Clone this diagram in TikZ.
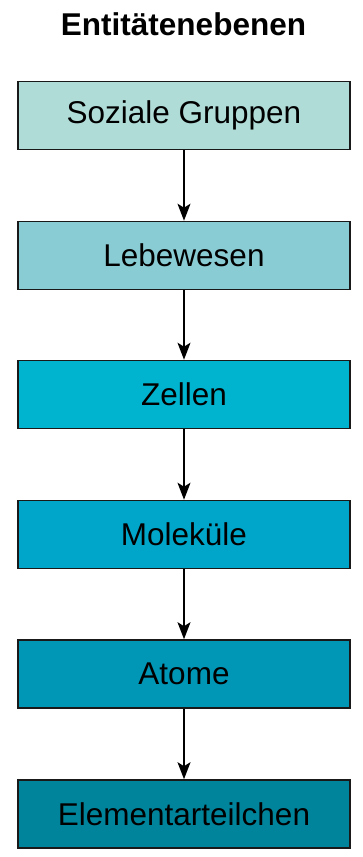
\documentclass[tikz,border=0pt]{standalone}
\usepackage{fontspec}
\setmainfont{Liberation Sans}
\usetikzlibrary{arrows.meta}
\definecolor{cA}{RGB}{176,220,216}
\definecolor{cB}{RGB}{138,204,212}
\definecolor{cC}{RGB}{0,180,208}
\definecolor{cD}{RGB}{0,166,202}
\definecolor{cE}{RGB}{0,150,182}
\definecolor{cF}{RGB}{0,132,156}
\definecolor{edge}{RGB}{25,25,25}
\tikzset{
  level/.style={draw=edge, line width=1.6pt, minimum width=332pt, minimum height=68pt, inner sep=0pt, font=\fontsize{31.5}{36}\selectfont, text=black},
  link/.style={line width=1.6pt, draw=black, -{Stealth[length=17pt,width=13pt,inset=4pt]}},
}
\begin{document}
\begin{tikzpicture}[x=1pt,y=1pt]
\useasboundingbox (0,0) rectangle (362,-857);
\node[font=\fontsize{31.5}{36}\selectfont\bfseries] (title) at (183.5,-24) {Entitätenebenen};
\node[level, fill=cA] (n1) at (184,-115.5) {Soziale Gruppen};
\node[level, fill=cB] (n2) at (184,-255.5) {Lebewesen};
\node[level, fill=cC] (n3) at (184,-394.5) {Zellen};
\node[level, fill=cD] (n4) at (184,-534.5) {Moleküle};
\node[level, fill=cE] (n5) at (184,-674) {Atome};
\node[level, fill=cF] (n6) at (184,-814) {Elementarteilchen};
\draw[link] (n1) -- (n2);
\draw[link] (n2) -- (n3);
\draw[link] (n3) -- (n4);
\draw[link] (n4) -- (n5);
\draw[link] (n5) -- (n6);
\end{tikzpicture}
\end{document}
